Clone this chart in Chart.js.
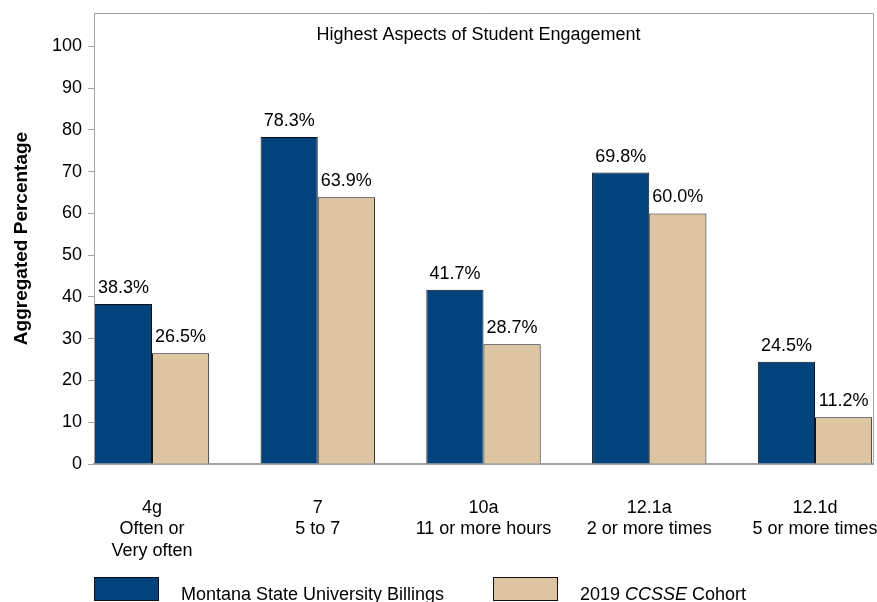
<!DOCTYPE html>
<html>
<head>
<meta charset="utf-8">
<script src="https://cdn.jsdelivr.net/npm/chart.js@4.4.1/dist/chart.umd.min.js"></script>
<style>
    html, body { margin: 0; padding: 0; background: #ffffff; }
    #chartBox { width: 877px; height: 602px; }
</style>
</head>
<body>
<div id="chartBox"><canvas id="myChart" width="877" height="602"></canvas></div>
<script>
// DATA
const categories = [
    ["4g", "Often or", "Very often"],
    ["7", "5 to 7"],
    ["10a", "11 or more hours"],
    ["12.1a", "2 or more times"],
    ["12.1d", "5 or more times"],
];
const msubValues = [38.3, 78.3, 41.7, 69.8, 24.5];
const cohortValues = [26.5, 63.9, 28.7, 60.0, 11.2];
const yTicks = [0, 10, 20, 30, 40, 50, 60, 70, 80, 90, 100];
const seriesNames = ["Montana State University Billings", "2019 CCSSE Cohort"];
// DATA

const FONT = '"Liberation Sans", Arial, sans-serif';
const GREY = "#a3a3a3";
const BLUE = "#03437c";
const TAN = "#dec5a1";

// VALUE LABELS ABOVE BARS
const valueLabels = {
    id: "valueLabels",
    afterDatasetsDraw: function (chart) {
        const ctx = chart.ctx;
        const sets = [msubValues, cohortValues];
        ctx.save();
        ctx.font = "18px " + FONT;
        ctx.fillStyle = "#000";
        ctx.textAlign = "center";
        ctx.textBaseline = "alphabetic";
        sets.forEach(function (values, i) {
            chart.getDatasetMeta(i).data.forEach(function (bar, j) {
                ctx.fillText(values[j].toFixed(1) + "%", bar.x, bar.y - 11);
            });
        });
        ctx.restore();
    },
};
// VALUE LABELS ABOVE BARS

// FRAME, TITLE AND LEGEND
const frameAndLegend = {
    id: "frameAndLegend",
    afterDraw: function (chart) {
        const ctx = chart.ctx;
        const area = chart.chartArea;
        ctx.save();

        // top and right side of the plot box
        ctx.strokeStyle = GREY;
        ctx.lineWidth = 1;
        ctx.beginPath();
        ctx.moveTo(area.left, area.top + 0.5);
        ctx.lineTo(area.right + 0.5, area.top + 0.5);
        ctx.lineTo(area.right + 0.5, area.bottom);
        ctx.stroke();

        // title inside the plot
        ctx.fillStyle = "#000";
        ctx.font = "18px " + FONT;
        ctx.textAlign = "center";
        ctx.textBaseline = "alphabetic";
        ctx.fillText("Highest Aspects of Student Engagement", (area.left + area.right) / 2 - 5, 40);

        // legend
        ctx.textAlign = "left";
        ctx.lineWidth = 1;
        ctx.strokeStyle = "#111";
        ctx.fillStyle = BLUE;
        ctx.fillRect(94, 577, 65, 23);
        ctx.strokeRect(94.5, 577.5, 64, 23);
        ctx.fillStyle = TAN;
        ctx.fillRect(493, 577, 65, 23);
        ctx.strokeRect(493.5, 577.5, 64, 23);

        ctx.fillStyle = "#000";
        ctx.fillText(seriesNames[0], 181, 600);
        let x = 580;
        ctx.fillText("2019 ", x, 600);
        x += ctx.measureText("2019 ").width;
        ctx.font = "italic 18px " + FONT;
        ctx.fillText("CCSSE", x, 600);
        x += ctx.measureText("CCSSE").width;
        ctx.font = "18px " + FONT;
        ctx.fillText(" Cohort", x, 600);
        ctx.restore();
    },
};
// FRAME, TITLE AND LEGEND

// CHART
const ctx = document.getElementById("myChart").getContext("2d");
new Chart(ctx, {
    type: "bar",
    data: {
        datasets: [
            {
                label: seriesNames[0],
                data: msubValues.map(function (v, i) { return { x: i, y: v }; }),
                backgroundColor: BLUE,
                borderColor: "#111",
                borderWidth: 1,
            },
            {
                label: seriesNames[1],
                data: cohortValues.map(function (v, i) { return { x: i, y: v }; }),
                backgroundColor: TAN,
                borderColor: "#111",
                borderWidth: 1,
            },
        ],
    },
    options: {
        responsive: false,
        animation: false,
        barPercentage: 1,
        categoryPercentage: 0.69,
        layout: { padding: { top: 13, right: 4, left: 0, bottom: 0 } },
        plugins: {
            legend: { display: false },
            tooltip: { enabled: false },
        },
        scales: {
            x: {
                type: "linear",
                offset: false,
                min: -0.35,
                max: 4.35,
                afterBuildTicks: function (scale) {
                    scale.ticks = categories.map(function (c, i) { return { value: i }; });
                },
                afterFit: function (scale) {
                    scale.height = 138;
                    scale.paddingLeft = 0;
                    scale.paddingRight = 0;
                },
                grid: { display: false, offset: false },
                border: { color: GREY, width: 2 },
                ticks: {
                    callback: function (value) { return categories[value]; },
                    autoSkip: false,
                    maxRotation: 0,
                    padding: 25,
                    color: "#000",
                    font: { family: FONT, size: 18, lineHeight: 1.2 },
                },
            },
            y: {
                min: 0,
                max: 108,
                afterBuildTicks: function (scale) {
                    scale.ticks = yTicks.map(function (v) { return { value: v }; });
                },
                afterFit: function (scale) {
                    scale.width = 94;
                    scale.paddingTop = 0;
                    scale.paddingBottom = 0;
                },
                grid: { drawOnChartArea: false, tickLength: 6, color: GREY },
                border: { color: GREY, width: 1 },
                ticks: {
                    padding: 6,
                    color: "#000",
                    font: { family: FONT, size: 18 },
                },
                title: {
                    display: true,
                    text: "Aggregated Percentage",
                    color: "#000",
                    font: { family: FONT, size: 19, weight: "bold" },
                    padding: { top: 10, bottom: 0 },
                },
            },
        },
    },
    plugins: [valueLabels, frameAndLegend],
});
// CHART
</script>
</body>
</html>
